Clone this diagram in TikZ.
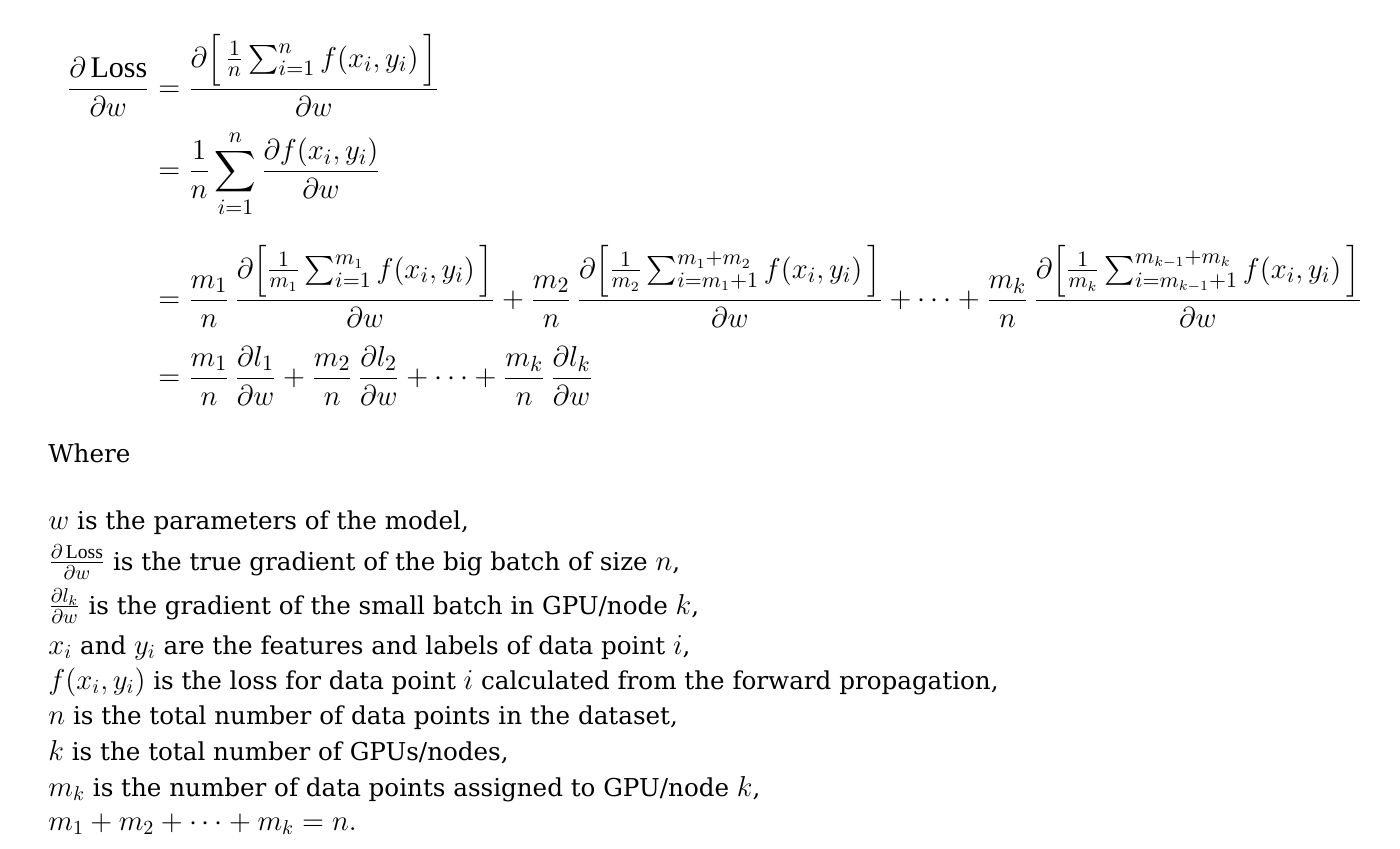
\documentclass[tikz,border=0pt]{standalone}
\usepackage{amsmath}
\usepackage{fontspec}
\setmainfont{DejaVu Serif}
\setmathrm{Liberation Serif}
\usetikzlibrary{positioning}

% inline math a little larger than the text
\newcommand{\mvar}[1]{{\fontsize{14}{16}\selectfont$#1$}}

\begin{document}
\begin{tikzpicture}[x=0.5pt,y=-0.5pt,
    eqn/.style={anchor=base west, inner sep=0pt, font=\fontsize{15}{18}\selectfont},
    txt/.style={anchor=base west, inner sep=0pt, font=\fontsize{12.3}{16}\selectfont}]
  \useasboundingbox (0,0) rectangle (1400,849);

  % the derivation
  \node[eqn, anchor=base east] (lhs) at (150,97) {$\dfrac{\partial\,\mathrm{Loss}}{\partial w}$};
  \node[eqn] (rowa) at (150,97)
    {$\displaystyle {}= \frac{\partial\Bigl[\,\frac{1}{n}\sum_{i=1}^{n} f(x_i,y_i)\,\Bigr]}{\partial w}$};
  \node[eqn] (rowb) at (150,179)
    {$\displaystyle {}= \frac{1}{n}\sum_{i=1}^{n}\frac{\partial f(x_i,y_i)}{\partial w}$};
  \node[eqn] (rowc) at (150,308)
    {$\displaystyle {}= \frac{m_1}{n}\,\frac{\partial\Bigl[\frac{1}{m_1}\sum_{i=1}^{m_1} f(x_i,y_i)\,\Bigr]}{\partial w}
      + \frac{m_2}{n}\,\frac{\partial\Bigl[\frac{1}{m_2}\sum_{i=m_1+1}^{m_1+m_2} f(x_i,y_i)\,\Bigr]}{\partial w}
      + \cdots + \frac{m_k}{n}\,\frac{\partial\Bigl[\frac{1}{m_k}\sum_{i=m_{k-1}+1}^{m_{k-1}+m_k} f(x_i,y_i)\,\Bigr]}{\partial w}$};
  \node[eqn] (rowd) at (150,386)
    {$\displaystyle {}= \frac{m_1}{n}\,\frac{\partial l_1}{\partial w} + \frac{m_2}{n}\,\frac{\partial l_2}{\partial w}
      + \cdots + \frac{m_k}{n}\,\frac{\partial l_k}{\partial w}$};

  % the legend
  \node[txt] (where) at (48,462) {Where};
  \node[txt] (defw) at (48,529) {\mvar{w} is the parameters of the model,};
  \node[txt] (defloss) at (48,570) {\mvar{\frac{\partial\,\mathrm{Loss}}{\partial w}} is the true gradient of the big batch of size \mvar{n},};
  \node[txt] (defl) at (48,614) {\mvar{\frac{\partial l_k}{\partial w}} is the gradient of the small batch in GPU/node \mvar{k},};
  \node[txt] (defxy) at (48,654) {\mvar{x_i} and \mvar{y_i} are the features and labels of data point \mvar{i},};
  \node[txt] (deff) at (48,689) {\mvar{f(x_i,y_i)} is the loss for data point \mvar{i} calculated from the forward propagation,};
  \node[txt] (defn) at (48,724) {\mvar{n} is the total number of data points in the dataset,};
  \node[txt] (defk) at (48,760) {\mvar{k} is the total number of GPUs/nodes,};
  \node[txt] (defm) at (48,796) {\mvar{m_k} is the number of data points assigned to GPU/node \mvar{k},};
  \node[txt] (defsum) at (48,830) {\mvar{m_1 + m_2 + \cdots + m_k = n.}};
\end{tikzpicture}
\end{document}
